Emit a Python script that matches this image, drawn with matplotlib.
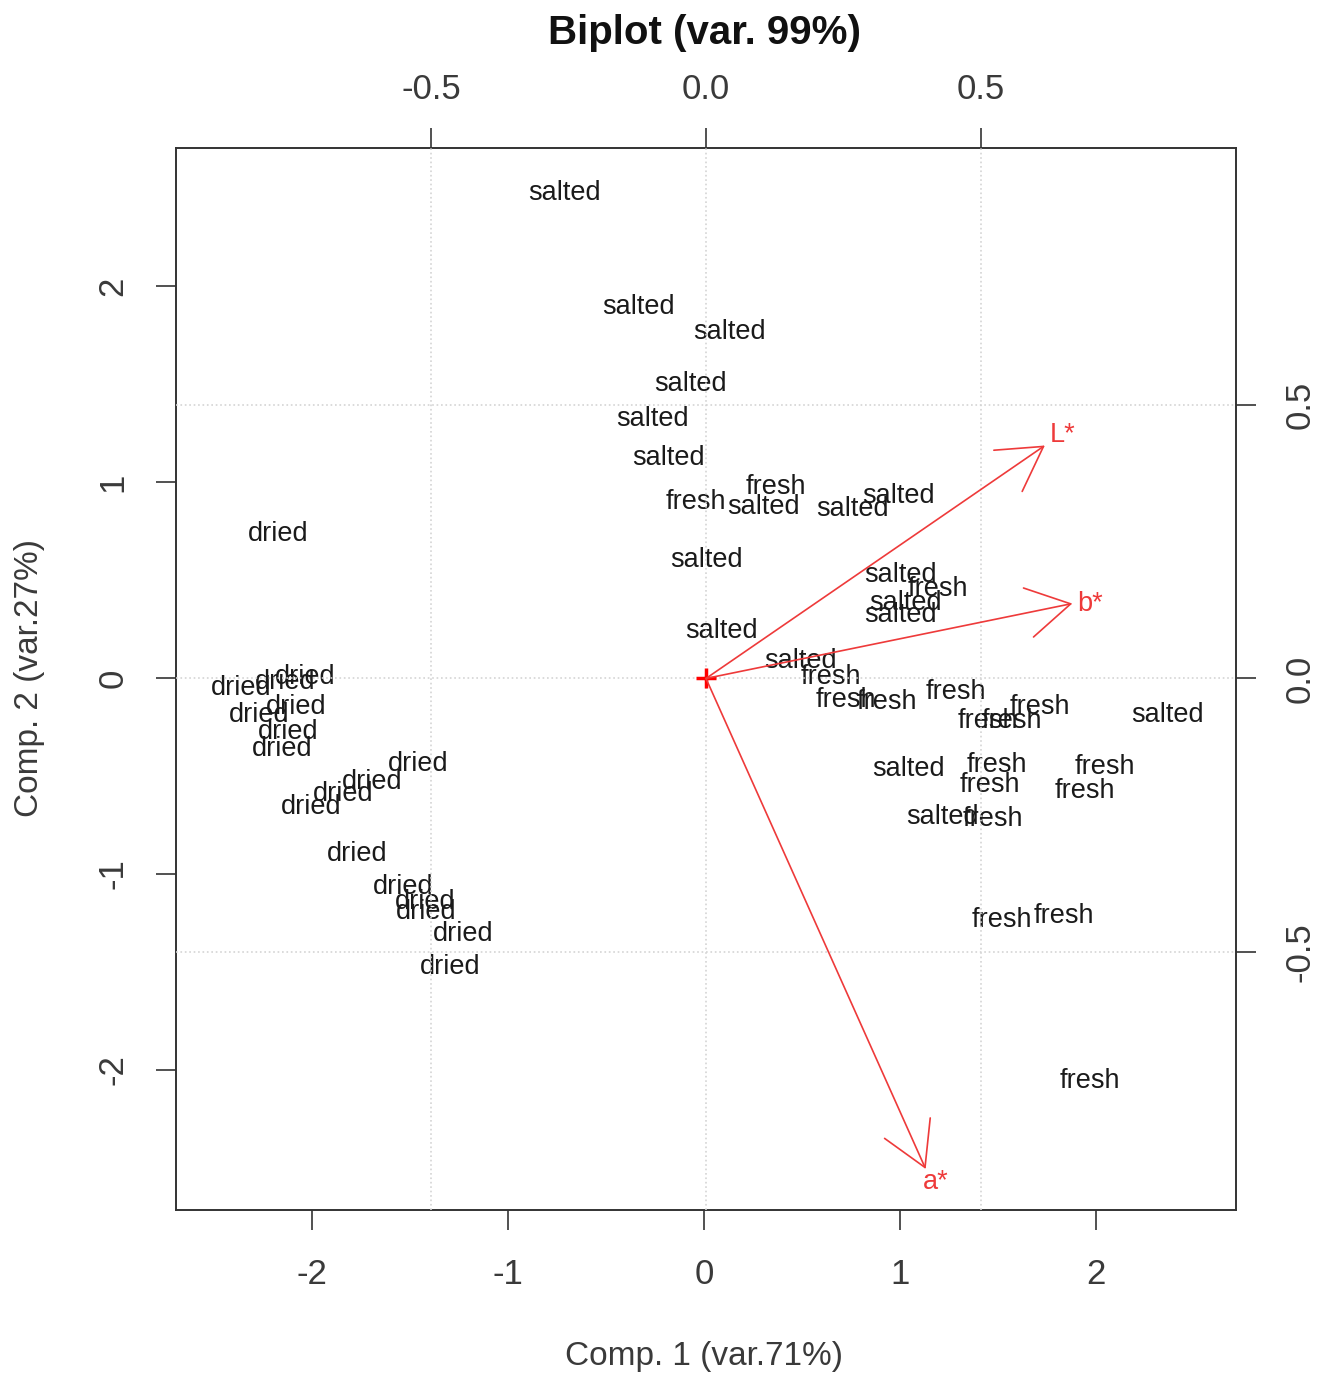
import matplotlib
matplotlib.use("Agg")
import matplotlib.pyplot as plt

plt.rcParams['font.family'] = ['Liberation Sans', 'DejaVu Sans']

# ---- data (scores on Comp.1 / Comp.2) ----
salted_x = [-0.714, -0.332, 0.128, -0.071, -0.265, -0.179, 0.301, 0.755, 0.990,
            0.015, 1.000, 1.026, 1.000, 0.087, 0.490, 2.362, 1.041, 1.219]
salted_y = [2.485, 1.903, 1.776, 1.510, 1.332, 1.133, 0.883, 0.872, 0.939,
            0.612, 0.536, 0.393, 0.332, 0.250, 0.097, -0.179, -0.454, -0.699]

fresh_x = [-0.041, 0.367, 1.194, 0.648, 0.724, 0.934, 1.286, 1.714, 1.449,
           1.571, 1.495, 1.459, 2.046, 1.944, 1.474, 1.520, 1.837, 1.969]
fresh_y = [0.908, 0.985, 0.464, 0.015, -0.102, -0.112, -0.061, -0.138, -0.209,
           -0.209, -0.434, -0.536, -0.444, -0.566, -0.709, -1.224, -1.204, -2.046]

dried_x = [-2.173, -2.362, -2.138, -2.036, -2.270, -2.082, -2.122, -2.153, -1.459,
           -1.694, -1.842, -2.005, -1.770, -1.536, -1.423, -1.418, -1.230, -1.296]
dried_y = [0.745, -0.041, -0.010, 0.015, -0.179, -0.138, -0.265, -0.352, -0.429,
           -0.520, -0.582, -0.648, -0.888, -1.056, -1.133, -1.184, -1.296, -1.464]

# ---- loadings (variables) ----
var_names = ['L*', 'b*', 'a*']
load_x = [0.617, 0.667, 0.400]
load_y = [0.426, 0.137, -0.897]

title = 'Biplot (var. 99%)'
xlabel = 'Comp. 1 (var.71%)'
ylabel = 'Comp. 2 (var.27%)'

prim_ticks = [-2, -1, 0, 1, 2]
sec_ticks = [-0.5, 0.0, 0.5]

# ---- figure ----
W, H = 1319, 1379
fig = plt.figure(figsize=(W / 100, H / 100), dpi=100)
rect = [176 / W, 1 - 1210 / H, (1236 - 176) / W, (1210 - 148) / H]
ax = fig.add_axes(rect)
ax2 = fig.add_axes(rect, frameon=False)
ax2.patch.set_alpha(0)

ax.set_xlim(-2.694, 2.714)
ax.set_ylim(-2.714, 2.704)
ax2.set_xlim(-0.965, 0.965)
ax2.set_ylim(-0.972, 0.970)

txtc = '#1a1a1a'
for xs, ys, lab in [(salted_x, salted_y, 'salted'),
                    (fresh_x, fresh_y, 'fresh'),
                    (dried_x, dried_y, 'dried')]:
    for x, y in zip(xs, ys):
        ax.annotate(lab, xy=(x, y), xytext=(0, -2), textcoords='offset pixels',
                    ha='center', va='center', fontsize=19.5, color=txtc)

# grid at secondary ticks
for t in sec_ticks:
    ax2.axvline(t, color='#d4d4d4', lw=1.2, ls=':', zorder=0)
    ax2.axhline(t, color='#d4d4d4', lw=1.2, ls=':', zorder=0)

red = '#ee3a3a'
offsets = {'L*': (18, 10), 'b*': (18, 0), 'a*': (10, -13)}
for name, lx, ly in zip(var_names, load_x, load_y):
    ax2.annotate('', xy=(lx, ly), xytext=(0, 0),
                 arrowprops=dict(arrowstyle='->,head_length=3.1,head_width=1.8',
                                 color=red, lw=1.2, shrinkA=0, shrinkB=0,
                                 mutation_scale=10))
    ax2.annotate(name, xy=(lx, ly), xytext=offsets[name], textcoords='offset pixels',
                 ha='center', va='center', color=red, fontsize=19.5)
ax2.plot([0], [0], marker='+', color='red', ms=14, mew=2.5)

# axes styling
for sp in ax.spines.values():
    sp.set_color('#333333')
    sp.set_linewidth(1.4)

tickc = '#333333'
ax.set_xticks(prim_ticks)
ax.set_yticks(prim_ticks)
ax.set_xticklabels([str(t) for t in prim_ticks])
ax.set_yticklabels([str(t) for t in prim_ticks], rotation=90, va='center')
ax.tick_params(axis='both', length=14.4, width=1.2, color=tickc, labelcolor='#3a3a3a',
               labelsize=25)
ax.tick_params(axis='x', pad=20)
ax.tick_params(axis='y', pad=19)

ax2.xaxis.set_ticks_position('top')
ax2.yaxis.set_ticks_position('right')
ax2.set_xticks(sec_ticks)
ax2.set_yticks(sec_ticks)
ax2.set_xticklabels(['%.1f' % t for t in sec_ticks])
ax2.set_yticklabels(['%.1f' % t for t in sec_ticks], rotation=90, va='center')
ax2.tick_params(axis='both', length=14.4, width=1.2, color=tickc, labelcolor='#3a3a3a',
                labelsize=25)
ax2.tick_params(axis='x', pad=16, labeltop=True, labelbottom=False)
ax2.tick_params(axis='y', pad=20, labelright=True, labelleft=False)

fig.text(704 / W, 1 - 33 / H, title, ha='center', va='center', fontsize=29,
         fontweight='bold', color='#111111')
fig.text(704 / W, 1 - 1357 / H, xlabel, ha='center', va='center', fontsize=24,
         color='#3a3a3a')
fig.text(30 / W, 1 - 678 / H, ylabel, ha='center', va='center', fontsize=24,
         color='#3a3a3a', rotation=90)

fig.savefig('out.png', dpi=100)
